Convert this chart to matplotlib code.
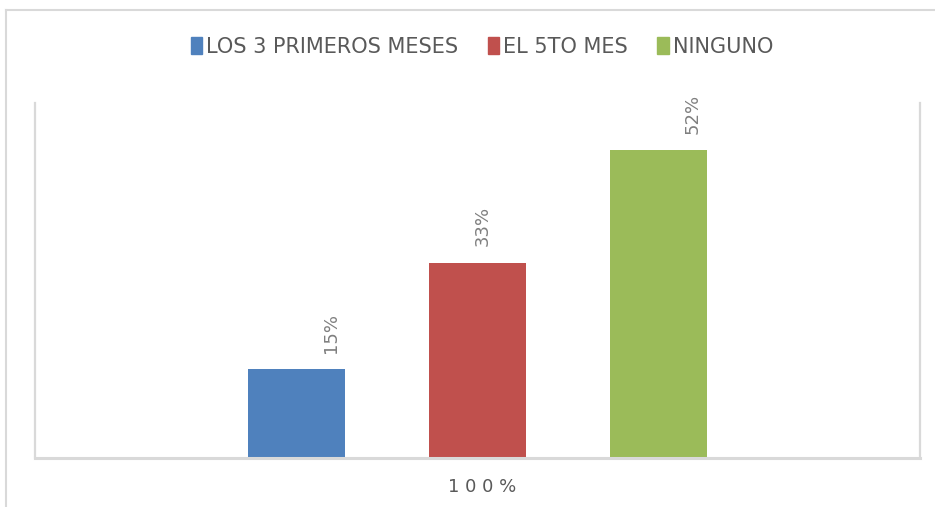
import matplotlib
matplotlib.use("Agg")
import matplotlib.pyplot as plt
from matplotlib.patches import Patch
from matplotlib.lines import Line2D

plt.rcParams['font.family'] = ['Liberation Sans Narrow', 'DejaVu Sans']

# data
categorias = ["LOS 3 PRIMEROS MESES", "EL 5TO MES", "NINGUNO"]
valores = [15, 33, 52]
etiquetas = ["15%", "33%", "52%"]
colores = ["#4f81bd", "#c0504d", "#9bbb59"]
eje_x = "1 0 0 %"

W, H = 935, 507
fig = plt.figure(figsize=(W / 100, H / 100), dpi=100)

# outer chart border (top and left visible)
fig.add_artist(Line2D([6 / W, 6 / W], [0, 1 - 10 / H], color="#d9d9d9", lw=1.5))
fig.add_artist(Line2D([6 / W, 1], [1 - 10 / H, 1 - 10 / H], color="#d9d9d9", lw=1.5))

ax = fig.add_axes([35 / W, 49 / H, 885 / W, 355 / H])

pos = [-1, 0, 1]
ax.bar(pos, valores, width=0.536, color=colores)
ax.set_xlim(-2.445, 2.445)
ax.set_ylim(0, 60)

# value labels, rotated
offsets = [34, 5, 34]
for x, v, t, dx in zip(pos, valores, etiquetas, offsets):
    ax.annotate(t, (x, v), xytext=(dx * 0.72, 12), textcoords="offset points",
                rotation=90, ha="center", va="bottom", fontsize=13, color="#7f7f7f")

ax.set_xticks([])
ax.set_yticks([])
for s in ["left", "right", "bottom"]:
    ax.spines[s].set_color("#d9d9d9")
    ax.spines[s].set_linewidth(1.6)
ax.spines["top"].set_visible(False)
ax.spines["bottom"].set_linewidth(2.2)

fig.text(482 / W, 1 - 487 / H, eje_x, ha="center", va="center", fontsize=13,
         color="#595959", family="DejaVu Sans")

handles = [Patch(facecolor=c, edgecolor=c) for c in colores]
fig.legend(handles, categorias, loc="center", bbox_to_anchor=(482 / W, 1 - 47 / H),
           ncol=3, frameon=False, fontsize=15, labelcolor="#595959",
           handlelength=0.55, handleheight=0.85, handletextpad=0.2, columnspacing=1.4)

fig.savefig("out.png", dpi=100)
